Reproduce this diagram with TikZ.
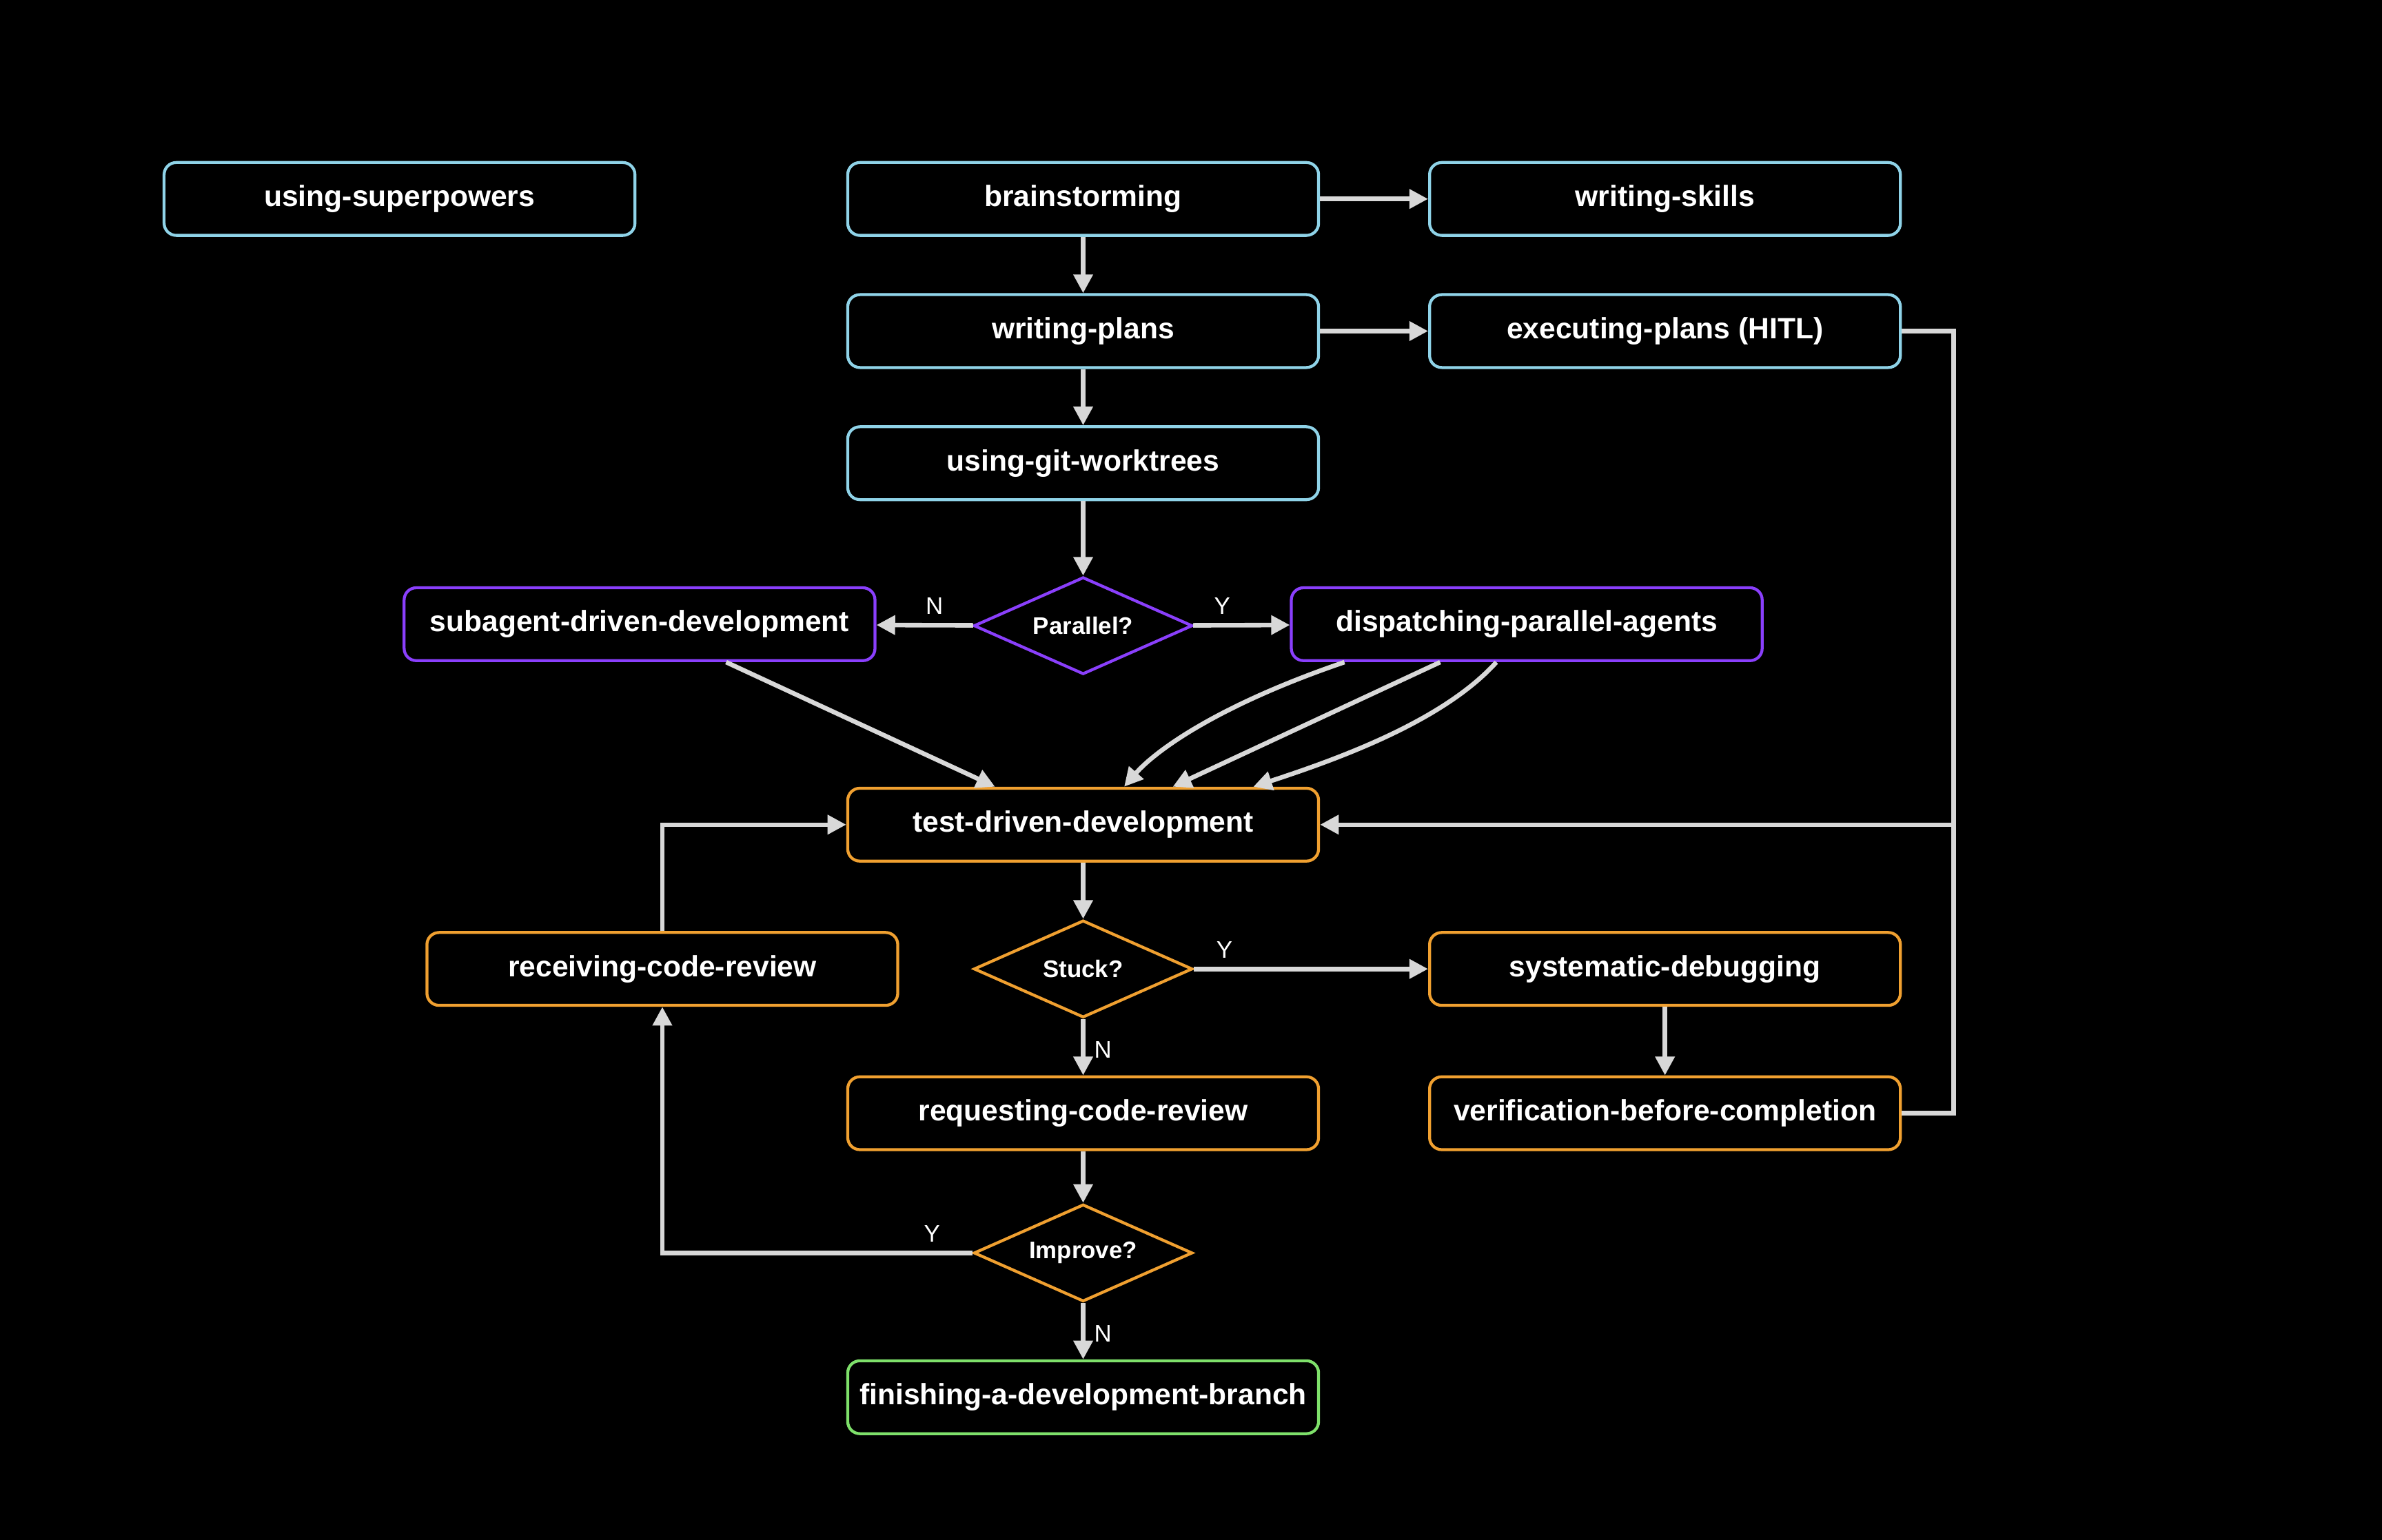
\documentclass[tikz,border=0pt]{standalone}
\usepackage{fontspec}
\setmainfont{Liberation Sans}
\usetikzlibrary{shapes.geometric,arrows.meta}
\definecolor{cy}{HTML}{8FD3E8}
\definecolor{pu}{HTML}{8A3FFC}
\definecolor{orn}{HTML}{F0A030}
\definecolor{gr}{HTML}{7EE06A}
\definecolor{ar}{HTML}{D8D8D8}
\begin{document}
\begin{tikzpicture}[x=0.02cm,y=-0.02cm,
 box/.style={draw=#1,line width=1.1pt,rounded corners=0.16cm,minimum width=6.2cm,minimum height=0.96cm,text=white,font=\fontsize{11}{13}\selectfont\bfseries,inner sep=0},
 dia/.style={diamond,draw=#1,line width=1.1pt,minimum width=2.88cm,minimum height=1.28cm,aspect=2.25,inner sep=0,text=white,font=\fontsize{9}{11}\selectfont\bfseries},
 arr/.style={draw=ar,line width=1.7pt,-{Triangle[length=7pt,width=7pt]}},
 lab/.style={text=white,font=\fontsize{9}{11}\selectfont}]
\fill[black] (0,0) rectangle (1568,1014);
\useasboundingbox (0,0) rectangle (1568,1014);
\node[box=cy] (us) at (263,131) {using-superpowers};
\node[box=cy] (bs) at (713,131) {brainstorming};
\node[box=cy] (ws) at (1096,131) {writing-skills};
\node[box=cy] (wp) at (713,218) {writing-plans};
\node[box=cy] (ep) at (1096,218) {executing-plans (HITL)};
\node[box=cy] (gw) at (713,305) {using-git-worktrees};
\node[dia=pu] (par) at (713,412) {Parallel?};
\node[box=pu] (sd) at (421,411) {subagent-driven-development};
\node[box=pu] (dp) at (1005,411) {dispatching-parallel-agents};
\node[box=orn] (tdd) at (713,543) {test-driven-development};
\node[box=orn] (rcr) at (436,638) {receiving-code-review};
\node[dia=orn] (st) at (713,638) {Stuck?};
\node[box=orn] (sys) at (1096,638) {systematic-debugging};
\node[box=orn] (req) at (713,733) {requesting-code-review};
\node[box=orn] (ver) at (1096,733) {verification-before-completion};
\node[dia=orn] (imp) at (713,825) {Improve?};
\node[box=gr] (fin) at (713,920) {finishing-a-development-branch};
\coordinate (c1) at (1286,218);
\coordinate (c2) at (1286,543);
\coordinate (c3) at (1286,733);
\coordinate (c4) at (436,825);
\coordinate (c5) at (436,543);
\draw[arr] (bs) -- (ws);
\draw[arr] (bs) -- (wp);
\draw[arr] (wp) -- (ep);
\draw[arr] (wp) -- (gw);
\draw[arr] (gw) -- (par);
\draw[arr] (par) -- node[lab,above,pos=0.4] {N} (sd);
\draw[arr] (par) -- node[lab,above,pos=0.3] {Y} (dp);
\draw[arr] (478,436) -- (655,518);
\draw[arr] (885,436) .. controls (800,465) and (760,495) .. (740,518);
\draw[arr] (948,436) -- (772,518);
\draw[arr] (985,436) .. controls (950,475) and (880,500) .. (825,518);
\draw[draw=ar,line width=1.7pt] (ep.east) -- (c1) -- (c3) -- (ver.east);
\draw[arr] (c2) -- (tdd.east);
\draw[arr] (tdd) -- (st);
\draw[arr] (st) -- node[lab,above,pos=0.13] {Y} (sys);
\draw[arr] (st) -- node[lab,right,pos=0.55] {N} (req);
\draw[arr] (sys) -- (ver);
\draw[arr] (req) -- (imp);
\draw[arr] (imp) -- node[lab,right,pos=0.55] {N} (fin);
\draw[arr] (imp.west) -- node[lab,above,pos=0.13] {Y} (c4) -- (rcr.south);
\draw[arr] (rcr.north) -- (c5) -- (tdd.west);
\end{tikzpicture}
\end{document}
